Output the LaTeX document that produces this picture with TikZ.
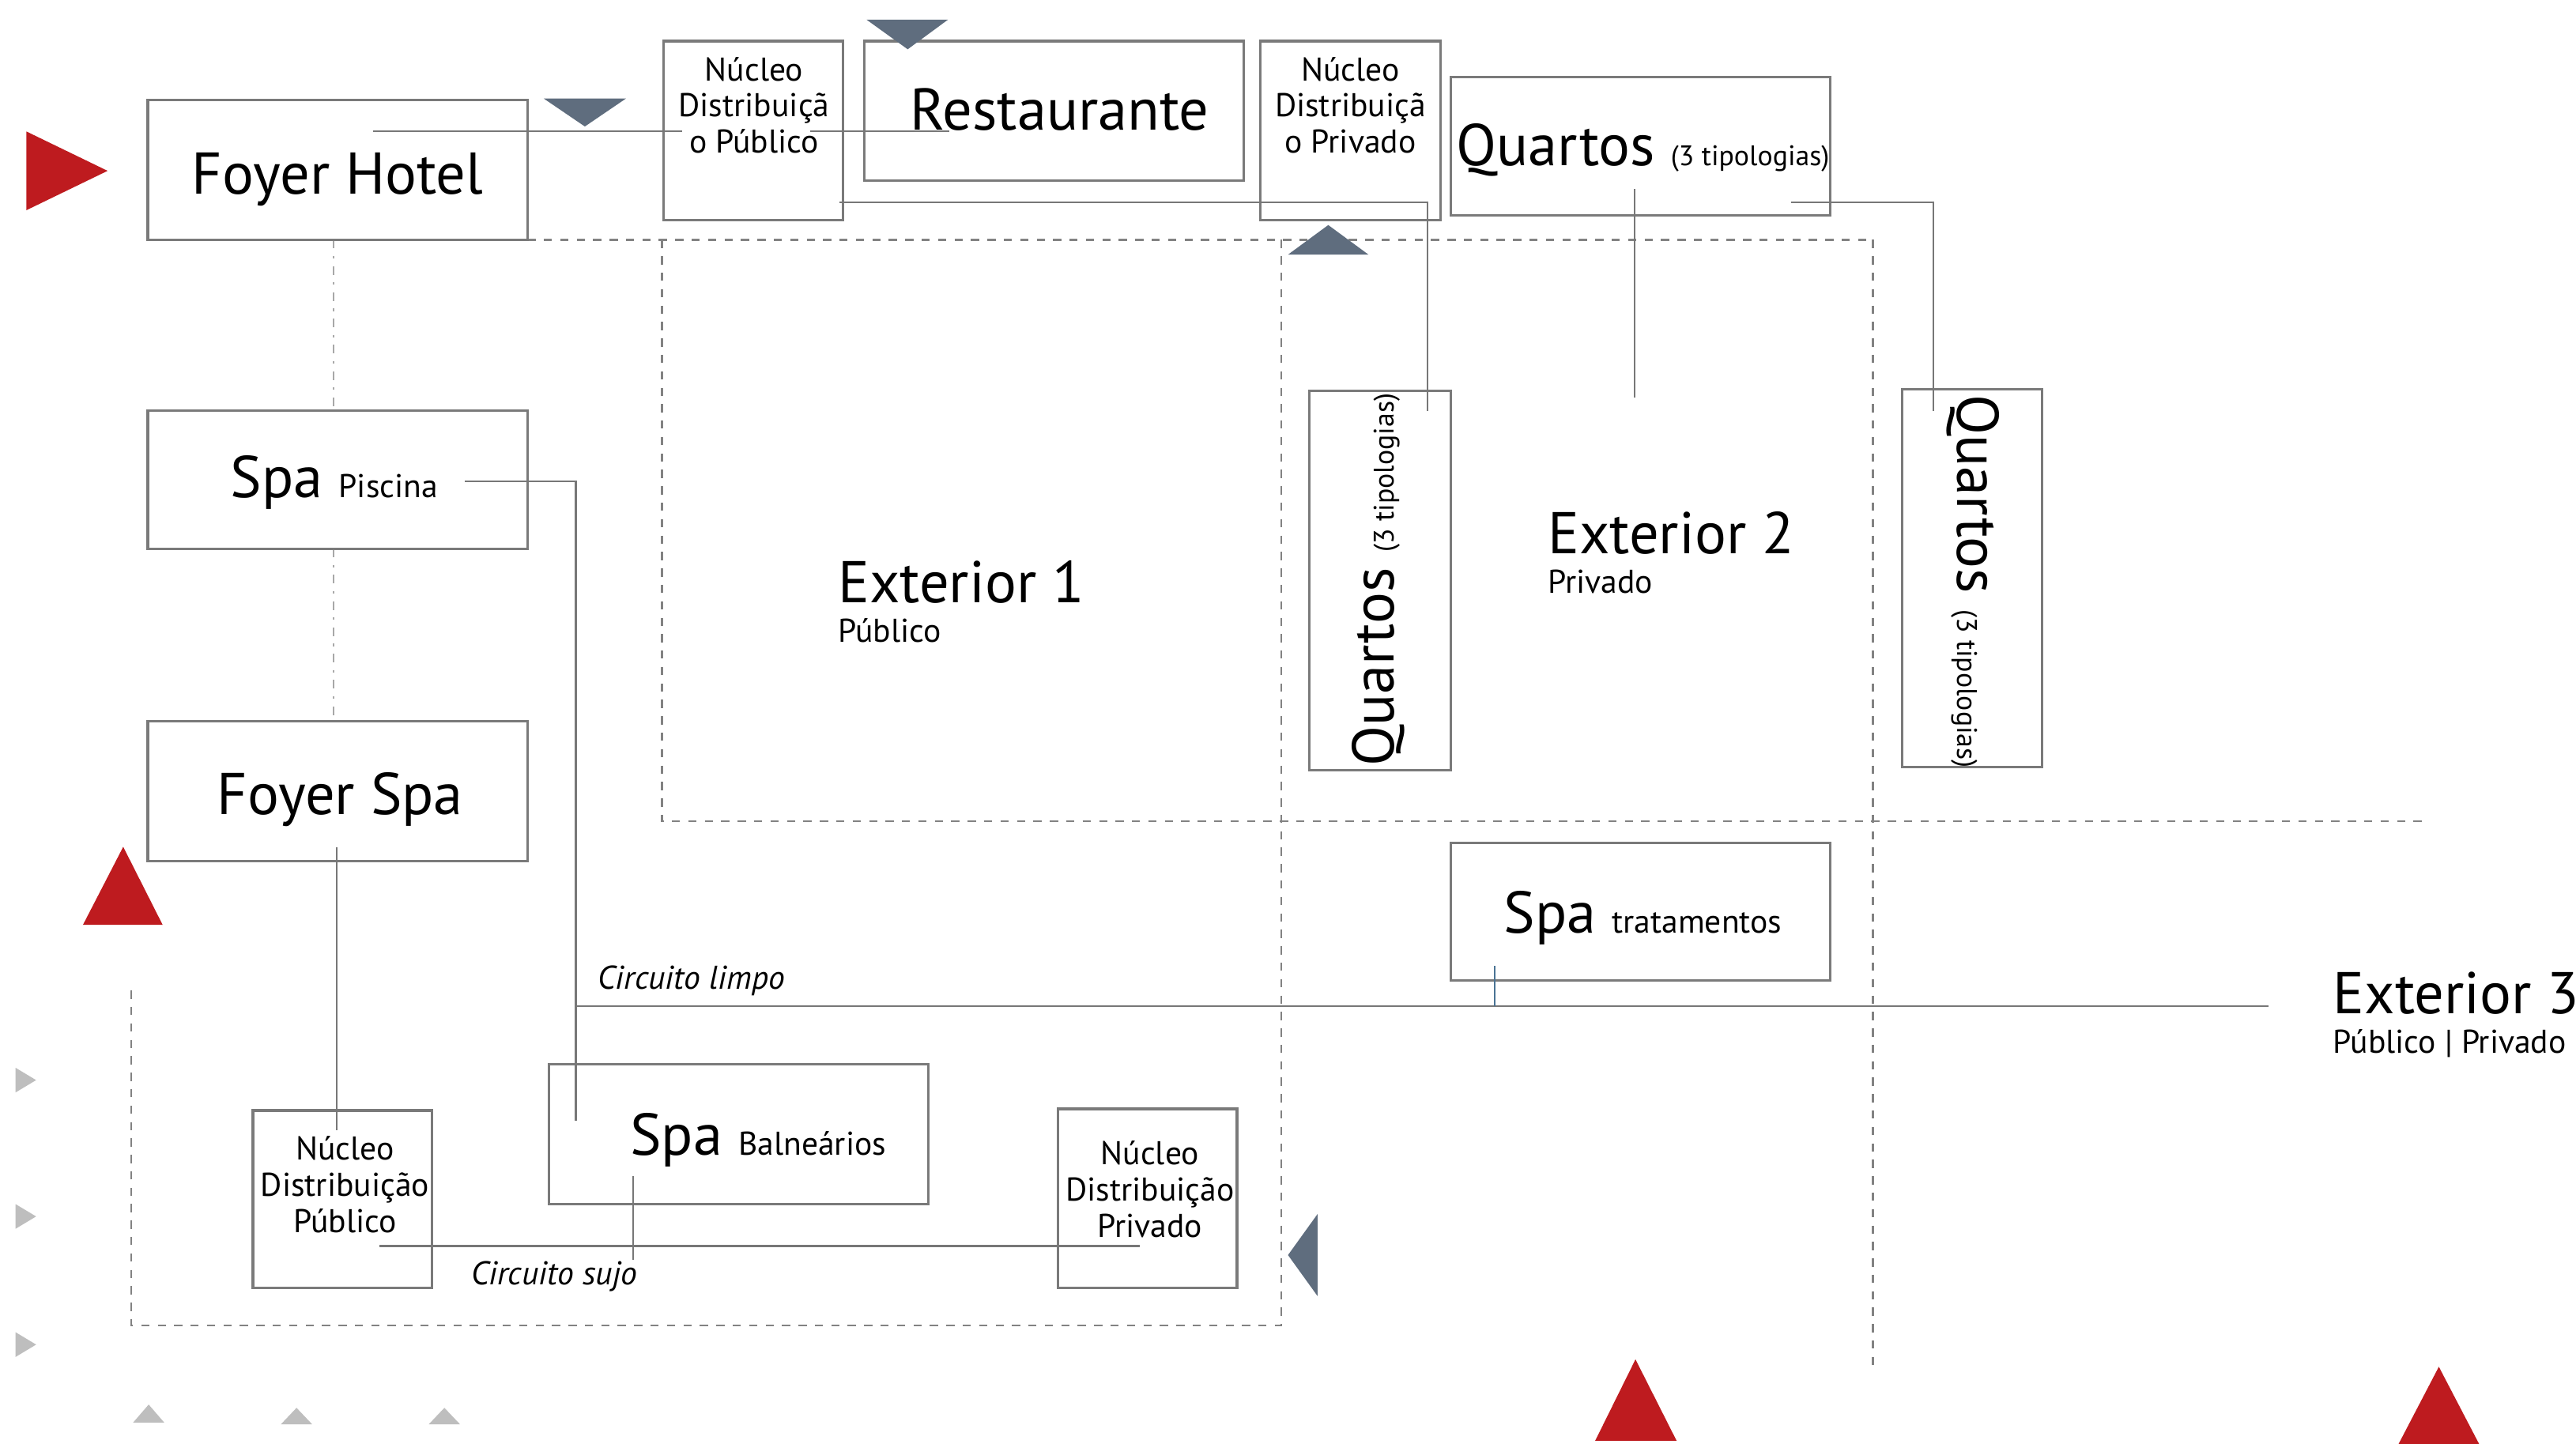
\documentclass[tikz,border=0pt]{standalone}
\usepackage{fontspec}
\setmainfont{PT Sans}
\definecolor{boxgray}{HTML}{7A7A7A}
\definecolor{conngray}{HTML}{777777}
\definecolor{dashgray}{HTML}{828282}
\definecolor{axisgray}{HTML}{A8A8A8}
\definecolor{mkred}{HTML}{BE1B1F}
\definecolor{mkblue}{HTML}{5F6D7E}
\definecolor{mklight}{HTML}{BEBEBE}
\definecolor{tickblue}{HTML}{4A7394}
\newcommand{\fbig}{\fontsize{51}{56}\selectfont}
\newcommand{\fmid}{\fontsize{28.5}{31.3}\selectfont}
\newcommand{\fsub}{\fontsize{28.5}{31}\selectfont}
\newcommand{\ftip}{\fontsize{24.5}{27}\selectfont}
\tikzset{
  box/.style={draw=boxgray, line width=2.2pt, inner sep=0pt},
  conn/.style={draw=conngray, line width=1.5pt},
  zone/.style={draw=dashgray, line width=1.6pt, dash pattern=on 2.5mm off 2.5mm},
  axisline/.style={draw=axisgray, line width=1.3pt, dash pattern=on 2.6mm off 2.3mm on 0.8mm off 2.3mm},
  txt/.style={inner sep=0pt, text=black},
  nucleo/.style={txt, align=center, font=\fmid},
}
\begin{document}
\begin{tikzpicture}[x=0.5mm,y=-0.5mm]
\useasboundingbox (0,0) rectangle (1568,879);

% zones (dashed)
\draw[zone] (321,146) -- (1140,146);
\draw[zone] (403,146) -- (403,500) -- (1475,500);
\draw[zone] (780,146) -- (780,807) -- (80,807) -- (80,600);
\draw[zone] (1140,146) -- (1140,833);
\draw[axisline] (203,146) -- (203,250);
\draw[axisline] (203,334) -- (203,439);

% boxes
\node[box, minimum width=115.5mm, minimum height=42.5mm] (fh) at (205.5,103.5) {};
\node[box, minimum width=54.5mm, minimum height=54.5mm] (np1) at (458.5,79.5) {};
\node[box, minimum width=115.5mm, minimum height=42.5mm] (rest) at (641.5,67.5) {};
\node[box, minimum width=55mm, minimum height=54.5mm] (npr1) at (822,79.5) {};
\node[box, minimum width=115.5mm, minimum height=42mm] (q1) at (998.5,89) {};
\node[box, minimum width=115.5mm, minimum height=42mm] (sp) at (205.5,292) {};
\node[box, minimum width=115.5mm, minimum height=42.5mm] (fs) at (205.5,481.5) {};
\node[box, minimum width=43mm, minimum height=115.5mm] (ql) at (840,353.5) {};
\node[box, minimum width=42.5mm, minimum height=115mm] (qr) at (1200.5,352) {};
\node[box, minimum width=115.5mm, minimum height=42mm] (st) at (998.5,555) {};
\node[box, minimum width=115.5mm, minimum height=42.5mm] (sb) at (449.5,690.5) {};
\node[box, minimum width=54.5mm, minimum height=54mm] (np2) at (208.5,730) {};
\node[box, minimum width=54.5mm, minimum height=54.5mm] (npr2) at (698.5,729.5) {};

% connector end points
\coordinate (fhA) at (227,80);
\coordinate (np1L) at (415,80);
\coordinate (np1R) at (493,80);
\coordinate (restA) at (578,80);
\coordinate (np1B) at (511,123);
\coordinate (qlTurn) at (869,123);
\coordinate (qlA) at (869,250);
\coordinate (q1A) at (995,115);
\coordinate (q1B) at (995,242);
\coordinate (q1R) at (1090,123);
\coordinate (qrTurn) at (1177,123);
\coordinate (qrA) at (1177,250);
\coordinate (spA) at (283,293);
\coordinate (spTurn) at (350.5,293);
\coordinate (limpo) at (350.5,612.5);
\coordinate (limpoEnd) at (1381,612.5);
\coordinate (sbA) at (350.5,682);
\coordinate (stA) at (910,588);
\coordinate (stB) at (910,612.5);
\coordinate (fsA) at (205,516);
\coordinate (np2A) at (205,688);
\coordinate (np2B) at (231,758.5);
\coordinate (npr2A) at (694,758.5);
\coordinate (sbB) at (385.5,716);
\coordinate (sbC) at (385.5,767);

% connectors
\draw[conn] (fhA) -- (np1L);
\draw[conn] (np1R) -- (restA);
\draw[conn] (np1B) -- (qlTurn) -- (qlA);
\draw[conn] (q1A) -- (q1B);
\draw[conn] (q1R) -- (qrTurn) -- (qrA);
\draw[conn] (spA) -- (spTurn) -- (sbA);
\draw[conn] (limpo) -- (limpoEnd);
\draw[draw=tickblue, line width=1.3pt] (stA) -- (stB);
\draw[conn] (fsA) -- (np2A);
\draw[conn] (np2B) -- (npr2A);
\draw[conn] (sbB) -- (sbC);

% texts
\node[txt, anchor=base, font=\fbig] (tfh) at (205.5,118) {Foyer Hotel};
\node[txt, anchor=base, font=\fbig] (trest) at (645,79) {Restaurante};
\node[txt, anchor=base] (tq1) at (1000,101) {\fbig Quartos~\ftip(3 tipologias)};
\node[txt, anchor=base] (tsp) at (203.5,303) {\fbig Spa~\fsub Piscina};
\node[txt, anchor=base, font=\fbig] (tfs) at (207,496) {Foyer Spa};
\node[txt, anchor=base] (tst) at (1000,568) {\fbig Spa~\fsub tratamentos};
\node[txt, anchor=base] (tsb) at (461.5,703) {\fbig Spa~\fsub Balneários};
\node[nucleo] (tnp1) at (459,64) {Núcleo\\Distribuiçã\\o Público};
\node[nucleo] (tnpr1) at (822,64) {Núcleo\\Distribuiçã\\o Privado};
\node[nucleo] (tnp2) at (210,721) {Núcleo\\Distribuição\\Público};
\node[nucleo] (tnpr2) at (700,724) {Núcleo\\Distribuição\\Privado};
\node[txt, rotate=90] (tql) at (839,353) {\fbig Quartos~\ftip(3 tipologias)};
\node[txt, rotate=-90] (tqr) at (1201,354) {\fbig Quartos~\ftip(3 tipologias)};

\node[txt, anchor=base west, font=\fbig] (e1) at (510,367) {Exterior 1};
\node[txt, anchor=base west, font=\fsub] (e1s) at (510,391) {Público};
\node[txt, anchor=base west, font=\fbig] (e2) at (942,337) {Exterior 2};
\node[txt, anchor=base west, font=\fsub] (e2s) at (942,361) {Privado};
\node[txt, anchor=base west, font=\fbig] (e3) at (1420,617) {Exterior 3};
\node[txt, anchor=base west, font=\fsub] (e3s) at (1420,641) {Público | Privado};
\node[txt, anchor=base west, font=\fsub\itshape] (cl) at (364,602) {Circuito limpo};
\node[txt, anchor=base west, font=\fsub\itshape] (cs) at (287,782) {Circuito sujo};

% markers
\fill[mkred] (16,80) -- (65.5,104) -- (16,128) -- cycle;
\fill[mkblue] (331,60) -- (381,60) -- (356,77) -- cycle;
\fill[mkblue] (527.5,12) -- (577,12) -- (552.5,30) -- cycle;
\fill[mkblue] (784,155) -- (833,155) -- (808.5,137) -- cycle;
\fill[mkred] (50.5,563) -- (99,563) -- (75,515.5) -- cycle;
\fill[mkblue] (802,739) -- (802,789) -- (784,764) -- cycle;
\fill[mklight] (9.5,650) -- (22,657.5) -- (9.5,665) -- cycle;
\fill[mklight] (9.5,733) -- (22,740.5) -- (9.5,748) -- cycle;
\fill[mklight] (9.5,811) -- (22,818.5) -- (9.5,826) -- cycle;
\fill[mklight] (81,866) -- (100,866) -- (90.5,855) -- cycle;
\fill[mklight] (171,867) -- (190,867) -- (180.5,857) -- cycle;
\fill[mklight] (261,867) -- (280,867) -- (270.5,857) -- cycle;
\fill[mkred] (971,877) -- (1020.5,877) -- (995.5,827.5) -- cycle;
\fill[mkred] (1460,879) -- (1509,879) -- (1484.5,832) -- cycle;
\end{tikzpicture}
\end{document}
